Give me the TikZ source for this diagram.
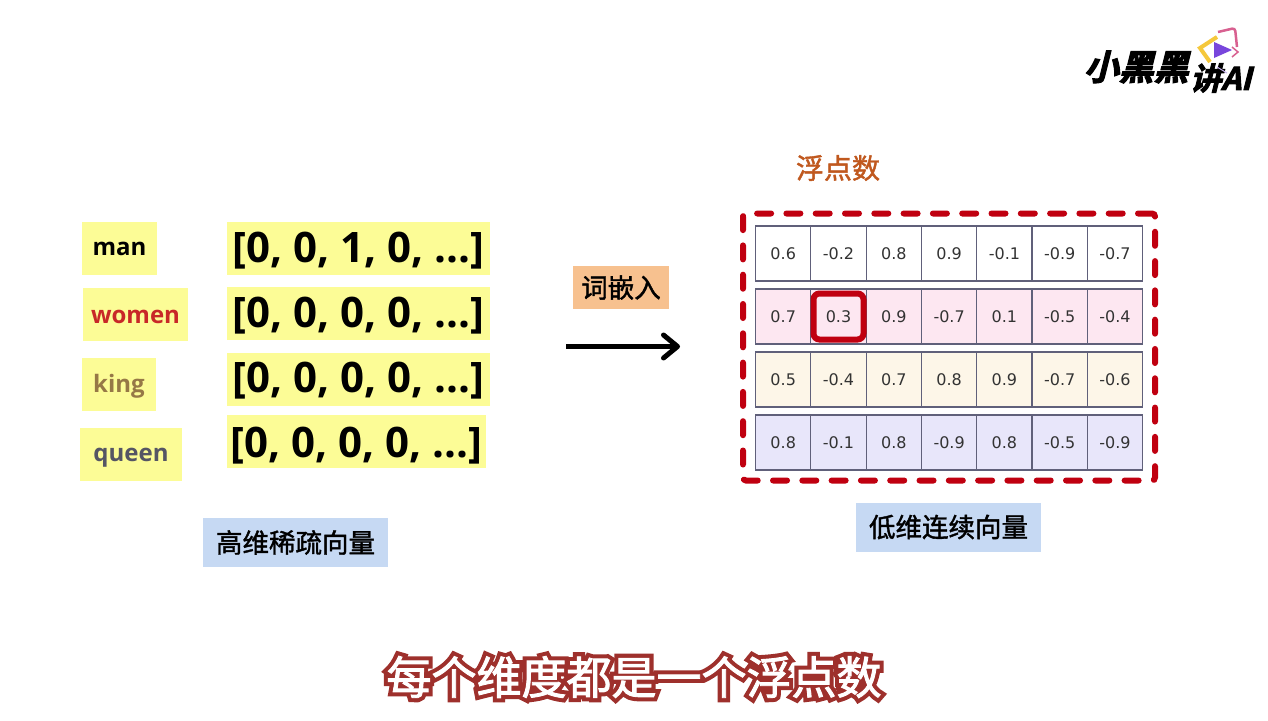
\documentclass[tikz,border=0pt]{standalone}
\usepackage{fontspec}
\setmainfont{Open Sans}
\newfontfamily\cjkmed[FakeBold=1.5]{Noto Sans CJK SC}
\newfontfamily\capfont[FakeBold=2]{Noto Sans CJK SC}
\newfontfamily\capedgefont[FakeBold=20]{Noto Sans CJK SC}
\newfontfamily\logofont[FakeSlant=0.25,FakeBold=3]{Noto Sans CJK SC Bold}
\newfontfamily\cellfont{DejaVu Sans}
\definecolor{hlyellow}{RGB}{252, 252, 150}
\definecolor{hlblue}{RGB}{198, 217, 243}
\definecolor{hlorange}{RGB}{247, 193, 143}
\definecolor{framered}{RGB}{192, 0, 16}
\definecolor{capred}{RGB}{158, 48, 44}
\definecolor{floatbrown}{RGB}{192, 88, 30}
\definecolor{cellline}{RGB}{96, 96, 122}
\definecolor{rowpink}{RGB}{253, 231, 241}
\definecolor{rowcream}{RGB}{253, 246, 232}
\definecolor{rowlilac}{RGB}{232, 230, 250}
\definecolor{womenred}{RGB}{200, 40, 40}
\definecolor{kingbrown}{RGB}{150, 120, 70}
\definecolor{queengray}{RGB}{85, 85, 100}
\definecolor{logoyellow}{RGB}{245, 200, 60}
\definecolor{logopink}{RGB}{216, 96, 144}
\definecolor{logoviolet}{RGB}{120, 70, 220}
\usetikzlibrary{arrows.meta}
\usetikzlibrary{positioning}
\tikzset{
    arrow/.style={-{Straight Barb[length=14pt,width=23pt,round]}, line width=5pt},
    word/.style = {
      fill=hlyellow,
      inner sep=0pt,
      minimum height=53pt,
      text depth=0pt,
      font=\bfseries\fontsize{24}{24}\selectfont
    },
    vector/.style = {
      fill=hlyellow,
      inner sep=0pt,
      minimum height=53pt,
      text height=35pt,
      text depth=8pt,
      font=\fontsize{42}{42}\selectfont\bfseries
    },
    tag/.style = {
      inner sep=0pt,
      font=\cjkmed\fontsize{26.5}{26.5}\selectfont
    },
    cell/.style = {
      draw=cellline,
      line width=1.2pt,
      minimum width=55.3pt,
      minimum height=55pt,
      inner sep=0pt,
      text=black!80,
      font=\cellfont\fontsize{16}{16}\selectfont
    },
}

\begin{document}
\begin{tikzpicture}[x=1pt,y=-1pt]
      \useasboundingbox (0,0) rectangle (1268,720);
      \fill[white] (0,0) rectangle (1268,720);

      % words
      \node [word, minimum width=75pt, text height=13pt] (man) at (119.5,248.5) {man};
      \node [word, minimum width=105pt, text height=18pt, text=womenred] (women) at (135.5,314.5) {women};
      \node [word, minimum width=74pt, text height=16pt, text=kingbrown] (king) at (119,384.5) {king};
      \node [word, minimum width=102pt, text height=14pt, text=queengray] (queen) at (131,454.5) {queen};

      % sparse vectors
      \node [vector, minimum width=263pt] (vecman) at (358.5,248.5) {[0, 0, 1, 0, ...]};
      \node [vector, minimum width=263pt] (vecwomen) at (358.5,313.5) {[0, 0, 0, 0, ...]};
      \node [vector, minimum width=263pt] (vecking) at (358.5,379) {[0, 0, 0, 0, ...]};
      \node [vector, minimum width=259pt, text height=41pt] (vecqueen) at (356.5,441) {[0, 0, 0, 0, ...]};

      \node [tag, fill=hlblue, minimum width=185pt, minimum height=49pt] (sparse) at (295.5,542.5) {高维稀疏向量};

      % embedding
      \node [tag, fill=hlorange, minimum width=96pt, minimum height=43pt] (embed) at (621,287.5) {词嵌入};
      \coordinate (arrowstart) at (566,346.5);
      \coordinate (arrowend) at (680,346.5);
      \draw[arrow] (arrowstart) -- (arrowend);

      % dense table
      \foreach \rowfill/\rowy/\rowvals [count=\r] in {
        white/253.5/{0.6,-0.2,0.8,0.9,-0.1,-0.9,-0.7},
        rowpink/316.5/{0.7,0.3,0.9,-0.7,0.1,-0.5,-0.4},
        rowcream/379.5/{0.5,-0.4,0.7,0.8,0.9,-0.7,-0.6},
        rowlilac/442.5/{0.8,-0.1,0.8,-0.9,0.8,-0.5,-0.9}} {
        \foreach \val [count=\c] in \rowvals {
          \node [cell, fill=\rowfill] (cell-\r-\c) at ({783.2+(\c-1)*55.3},\rowy) {\val};
        }
      }

      \node [draw=framered, line width=6pt, rounded corners=6pt, minimum width=50pt,
        minimum height=46pt, inner sep=0pt] (highlight) at (cell-2-2) {};

      \node [draw=framered, line width=6pt, line cap=round, dash pattern=on 14pt off 15.3pt,
        rounded corners=3pt, minimum width=412pt, minimum height=267pt, inner sep=0pt]
        (outline) at (949,347) {};

      \node [tag, text=floatbrown, font=\cjkmed\fontsize{28}{28}\selectfont] (floatlabel) at (838,168) {浮点数};
      \node [tag, fill=hlblue, minimum width=185pt, minimum height=49pt] (dense) at (948.5,527) {低维连续向量};

      % caption
      \node [inner sep=0pt, text=capred, font=\capedgefont\fontsize{45}{45}\selectfont] (captionedge) at (634,677) {每个维度都是一个浮点数};
      \node [inner sep=0pt, text=white, font=\capfont\fontsize{45}{45}\selectfont] (caption) at (captionedge) {每个维度都是一个浮点数};

      % logo
      \node [inner sep=0pt, font=\logofont\fontsize{35}{35}\selectfont, anchor=east] (logoa) at (1189,67) {小黑黑};
      \node [inner sep=0pt, font=\logofont\fontsize{31}{31}\selectfont, anchor=west] (logob) at (1190,78) {讲AI};
      \draw[line width=4pt, logoyellow] (1217,37) -- (1200,48) -- (1210,62);
      \draw[line width=2.5pt, logopink, rounded corners=3pt] (1218,32) -- (1235,28) -- (1237,47);
      \draw[line width=1.5pt, logopink] (1232,47) -- (1238,52) -- (1232,57);
      \draw[line width=1pt, logoviolet!40] (1217,67) -- (1227,73);
      \fill[logoviolet] (1214,42) -- (1232,50) -- (1214,58) -- cycle;
    \end{tikzpicture}
\end{document}
